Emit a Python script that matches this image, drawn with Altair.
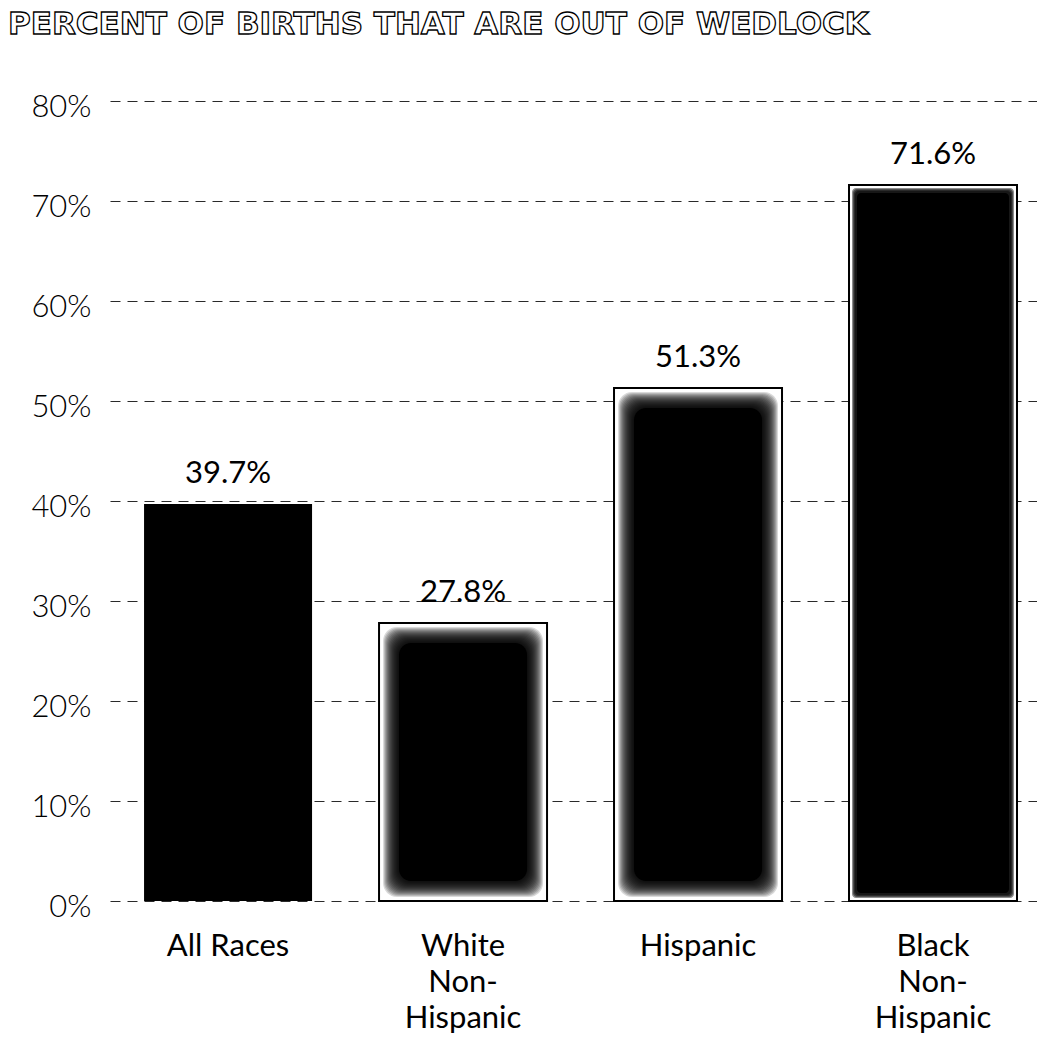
import altair as alt
import pandas as pd

# Share of births to unmarried mothers, by race / ethnicity
categories = ["All Races", "White\nNon-\nHispanic", "Hispanic", "Black\nNon-\nHispanic"]
percents = [39.7, 27.8, 51.3, 71.6]
y_ticks = [0, 10, 20, 30, 40, 50, 60, 70, 80]
title_text = "PERCENT OF BIRTHS THAT ARE OUT OF WEDLOCK"

df = pd.DataFrame({"group": categories, "pct": percents})

PLOT_W, PLOT_H = 927, 800
BAR_W = 168
LABEL_FONT = "Lato"

x_enc = alt.X(
    "group:N",
    sort=categories,
    scale=alt.Scale(paddingInner=0.285, paddingOuter=0.115, align=0.63),
    axis=alt.Axis(
        title=None,
        labelExpr="split(datum.label, '\\n')",
        labelAngle=0,
        labelFont=LABEL_FONT,
        labelFontSize=31,
        labelColor="black",
        labelBaseline="alphabetic",
        labelLineHeight=36,
        labelPadding=54,
        ticks=False,
        domain=False,
        grid=False,
    ),
)

y_enc = alt.Y(
    "pct:Q",
    stack=None,
    scale=alt.Scale(domain=[0, 80], nice=False, zero=True),
    axis=alt.Axis(
        title=None,
        values=y_ticks,
        labelExpr="datum.value + '%'",
        labelFont=LABEL_FONT,
        labelFontWeight=300,
        labelFontSize=31,
        labelColor="black",
        labelPadding=19,
        labelOffset=6,
        labelBaseline="middle",
        ticks=False,
        domain=False,
        grid=True,
        gridColor="#2a2a2a",
        gridWidth=1.1,
        gridDash=[10, 7],
    ),
)

base = alt.Chart(df).encode(x=x_enc, y=y_enc, y2=alt.datum(0))

outlined = ["White\nNon-\nHispanic", "Hispanic", "Black\nNon-\nHispanic"]
soft = ["White\nNon-\nHispanic", "Hispanic"]
in_list = lambda names: alt.FieldOneOfPredicate(field="group", oneOf=names)

# framed boxes behind the airbrushed fills
frames = base.mark_bar(
    width=BAR_W, fill="white", stroke="black", strokeWidth=2
).transform_filter(in_list(outlined))

layers = [frames]

# soft airbrushed fade for the white and hispanic bars
for k in range(4, 21):
    layers.append(
        base.mark_bar(
            width=BAR_W - 2 * k, yOffset=k, y2Offset=-k,
            color="black", opacity=0.15, cornerRadius=14,
        ).transform_filter(in_list(soft))
    )
layers.append(
    base.mark_bar(
        width=BAR_W - 40, yOffset=20, y2Offset=-20,
        color="black", cornerRadius=12,
    ).transform_filter(in_list(soft))
)

# narrow fade for the black non-hispanic bar
for k in [3, 4, 5, 6]:
    layers.append(
        base.mark_bar(
            width=BAR_W - 2 * k, yOffset=k, y2Offset=-k,
            color="black", opacity=0.45, cornerRadius=4,
        ).transform_filter(in_list(["Black\nNon-\nHispanic"]))
    )
layers.append(
    base.mark_bar(
        width=BAR_W - 16, yOffset=8, y2Offset=-8, color="black", cornerRadius=4,
    ).transform_filter(in_list(["Black\nNon-\nHispanic"]))
)

# all races: solid block
layers.append(
    base.mark_bar(width=BAR_W, color="black").transform_filter(in_list(["All Races"]))
)

values = base.mark_text(
    font=LABEL_FONT, fontSize=31, color="black",
    align="center", baseline="alphabetic", dy=-21,
).encode(text="label:N").transform_calculate(
    label="format(datum.pct, '.1f') + '%'"
)
layers.append(values)

chart = alt.layer(*layers).properties(
    width=PLOT_W,
    height=PLOT_H,
    autosize=alt.AutoSizeParams(type="none"),
    padding={"left": 110, "top": 101, "right": 0, "bottom": 140},
    title=alt.TitleParams(
        title_text,
        anchor="start",
        frame="group",
        dx=-102,
        offset=26,
        font="DejaVu Sans",
        fontSize=31,
        fontWeight="bold",
        color="white",
        baseline="alphabetic",
        style="hollow",
    ),
).configure(
    background="white",
    style={"hollow": {"stroke": "black", "strokeWidth": 1.3}},
).configure_view(
    stroke=None
)

chart.save("out.html", embed_options={"renderer": "svg", "actions": False})
